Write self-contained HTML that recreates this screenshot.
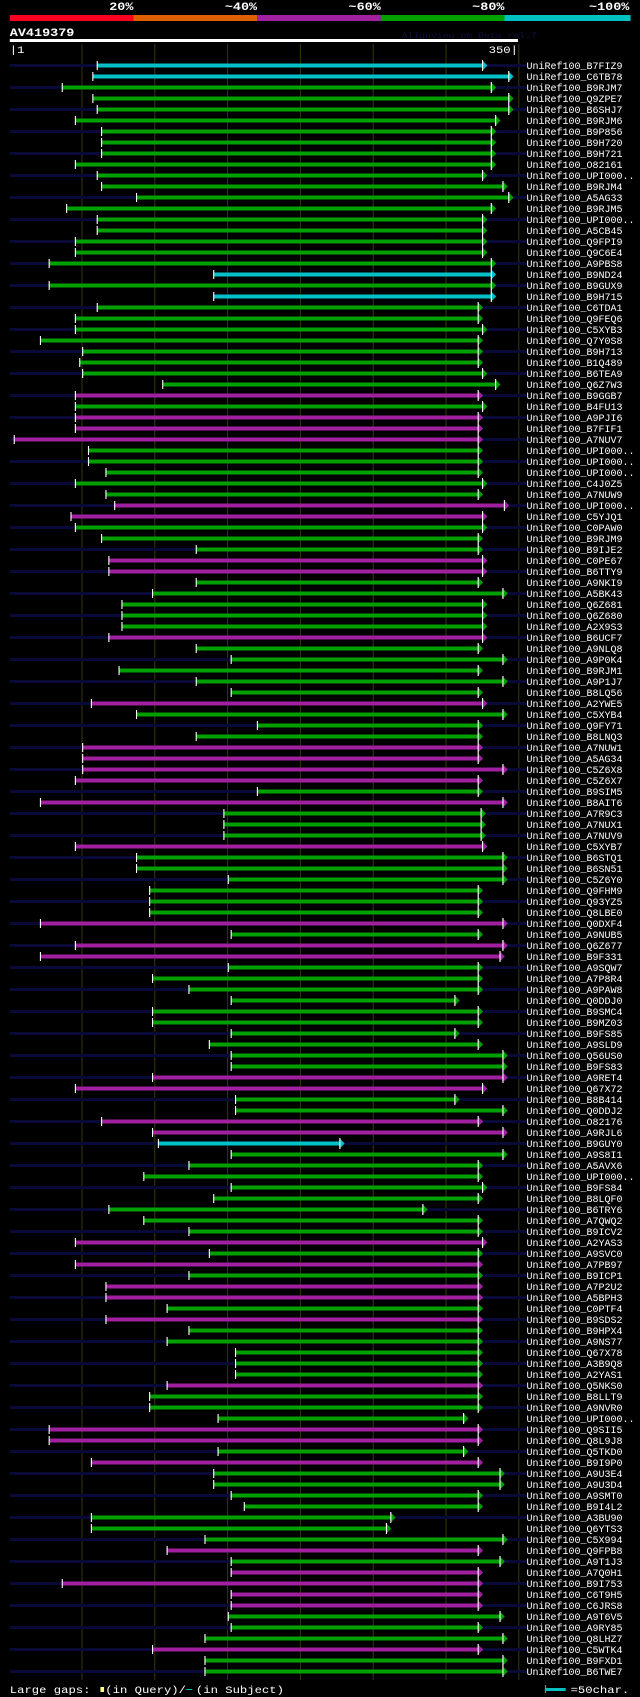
<!DOCTYPE html>
<html><head><meta charset="utf-8">
<style>
html,body{margin:0;padding:0;background:#000;}
svg{display:block;}
text{font-family:"Liberation Mono","DejaVu Sans Mono",monospace;}
</style></head>
<body>
<svg id="chart" width="640" height="1697" viewBox="0 0 522.67 1697" preserveAspectRatio="none" xmlns="http://www.w3.org/2000/svg">
  <rect x="0" y="0" width="522.67" height="1697" fill="#000"/>
  <g font-weight="bold" font-size="11" fill="#fff">
    <text x="109" y="10" text-anchor="end">20%</text>
    <text x="210" y="10" text-anchor="end">~40%</text>
    <text x="311" y="10" text-anchor="end">~60%</text>
    <text x="412" y="10" text-anchor="end">~80%</text>
    <text x="514" y="10" text-anchor="end">~100%</text>
  </g>
  <g>
    <rect x="8" y="15" width="101" height="6" fill="#ff0020"/>
    <rect x="109" y="15" width="101" height="6" fill="#e06000"/>
    <rect x="210" y="15" width="101" height="6" fill="#a020a0"/>
    <rect x="311" y="15" width="101" height="6" fill="#00a000"/>
    <rect x="412" y="15" width="103" height="6" fill="#00c0c0"/>
  </g>
  <text x="8" y="36" font-weight="bold" font-size="11" fill="#fff">AV419379</text>
  <text x="328" y="38" font-size="8" fill="#101040">AlignView.pm Beta rel.7</text>
  <rect x="8" y="39" width="415" height="3" fill="#fff"/>
  <g id="grid"></g>
  <text x="8" y="53" font-size="10" fill="#fff">|1</text>
  <text x="423" y="53" font-size="10" fill="#fff" text-anchor="end">350|</text>
  <g id="rows"></g>
  <g font-size="10" fill="#fff">
    <text x="8" y="1693">Large gaps:</text>
    <rect x="82" y="1687" width="3" height="5" fill="#ffff80"/>
    <text x="86" y="1693">(in Query)/</text>
    <rect x="152" y="1689" width="5" height="1" fill="#00c0c0"/>
    <text x="160" y="1693">(in Subject)</text>
    <rect x="445" y="1688" width="17" height="3" fill="#00c0c0"/>
    <rect x="445" y="1685" width="1" height="8" fill="#888"/>
    <text x="466" y="1693">=50char.</text>
  </g>
</svg>
<script>
const labels = ["B7FIZ9","C6TB78","B9RJM7","Q9ZPE7","B6SHJ7","B9RJM6","B9P856","B9H720","B9H721","O82161","UPI000..","B9RJM4","A5AG33","B9RJM5","UPI000..","A5CB45","Q9FPI9","Q9C6E4","A9PBS8","B9ND24","B9GUX9","B9H715","C6TDA1","Q9FEQ6","C5XYB3","Q7Y0S8","B9H713","B1Q489","B6TEA9","Q6Z7W3","B9GGB7","B4FU13","A9PJI6","B7FIF1","A7NUV7","UPI000..","UPI000..","UPI000..","C4J0Z5","A7NUW9","UPI000..","C5YJQ1","C0PAW0","B9RJM9","B9IJE2","C0PE67","B6TTY9","A9NKI9","A5BK43","Q6Z681","Q6Z680","A2X9S3","B6UCF7","A9NLQ8","A9P0K4","B9RJM1","A9P1J7","B8LQ56","A2YWE5","C5XYB4","Q9FY71","B8LNQ3","A7NUW1","A5AG34","C5Z6X8","C5Z6X7","B9SIM5","B8AIT6","A7R9C3","A7NUX1","A7NUV9","C5XYB7","B6STQ1","B6SN51","C5Z6Y0","Q9FHM9","Q93YZ5","Q8LBE0","Q0DXF4","A9NUB5","Q6Z677","B9F331","A9SQW7","A7P8R4","A9PAW8","Q0DDJ0","B9SMC4","B9MZ03","B9FS85","A9SLD9","Q56US0","B9FS83","A9RET4","Q67X72","B8B414","Q0DDJ2","O82176","A9RJL6","B9GUY0","A9S8I1","A5AVX6","UPI000..","B9FS84","B8LQF0","B6TRY6","A7QWQ2","B9ICV2","A2YAS3","A9SVC0","A7PB97","B9ICP1","A7P2U2","A5BPH3","C0PTF4","B9SDS2","B9HPX4","A9NS77","Q67X78","A3B9Q8","A2YAS1","Q5NKS0","B8LLT9","A9NVR0","UPI000..","Q9SII5","Q8L9J8","Q5TKD0","B9I9P0","A9U3E4","A9U3D4","A9SMT0","B9I4L2","A3BU90","Q6YTS3","C5X994","Q9FPB8","A9T1J3","A7Q0H1","B9I753","C6T9H5","C6JRS8","A9T6V5","A9RY85","Q8LHZ7","C5WTK4","B9FXD1","B6TWE7"];
const identity = ["c","c","g","g","g","g","g","g","g","g","g","g","g","g","g","g","g","g","g","c","g","c","g","g","g","g","g","g","g","g","m","g","m","m","m","g","g","g","g","g","m","m","g","g","g","m","m","g","g","g","g","g","m","g","g","g","g","g","m","g","g","g","m","m","m","m","g","m","g","g","g","m","g","g","g","g","g","g","m","g","m","m","g","g","g","g","g","g","g","g","g","g","m","m","g","g","m","m","c","g","g","g","g","g","g","g","g","m","g","m","g","m","m","g","m","g","g","g","g","g","m","g","g","g","m","m","g","m","g","g","g","g","g","g","g","m","g","m","m","m","m","g","g","g","m","g","g"];
const starts = [61,58,37,58,61,46,64,64,64,46,61,64,88,40,61,61,46,46,28,141,28,141,61,46,46,22,51,49,51,106,46,46,46,46,4,55,55,67,46,67,73,43,46,64,129,69,69,129,99,78,78,78,69,129,153,76,129,153,57,88,171,129,51,51,51,46,171,22,148,148,148,46,88,88,151,97,97,97,22,153,46,22,151,99,124,153,99,99,153,138,153,153,99,46,156,156,64,99,103,153,124,93,153,141,69,93,124,46,138,46,124,67,67,109,67,124,109,156,156,156,109,97,97,144,28,28,144,57,141,141,153,162,57,57,135,109,153,153,37,153,153,151,153,135,99,135,135];
const ends = [329,347,335,347,347,338,335,335,335,335,329,343,347,335,329,329,329,329,335,335,335,335,326,326,329,326,326,326,329,338,326,329,326,326,326,326,326,326,329,326,344,329,329,326,326,329,329,326,343,329,329,329,329,326,343,326,343,326,329,343,326,326,326,326,343,326,326,343,328,328,328,329,343,343,343,326,326,326,343,326,343,341,326,326,326,310,326,326,310,326,343,343,343,329,310,343,326,343,231,343,326,326,329,326,288,326,326,329,326,326,326,326,326,326,326,326,326,326,326,326,326,326,326,316,326,326,316,326,341,341,326,326,266,263,343,326,341,326,326,326,326,341,326,343,326,343,343];
const gridTicks = [51,101,151,201,251,301,351];

const colorMap = {c:"#00c0c8", g:"#00a000", m:"#a020a0"};
const NS = "http://www.w3.org/2000/svg";
function xScale(u){ return 8 + (u-1)*415/349; }
function rowY(i){ return 65 + i*11; }
function mk(tag, attrs, parent){
  const e = document.createElementNS(NS, tag);
  for (const k in attrs) e.setAttribute(k, attrs[k]);
  parent.appendChild(e);
  return e;
}
const grid = document.getElementById('grid');
gridTicks.forEach(function(t){
  const l = mk('line', {x1:xScale(t)-0.5, x2:xScale(t)-0.5, y1:44, y2:1680, stroke:'#38380c', 'stroke-width':0.8}, grid);
  
  
});
const rows = document.getElementById('rows');
labels.forEach(function(lab, i){
  const y = rowY(i);
  const g = mk('g', {}, rows);
  
  
  if (i % 2 === 0) {
    const bg = mk('rect', {x:8, y:y-1, width:422, height:3, fill:'#0a0a38'}, g);
    
    
  }
  const x0 = xScale(starts[i]), x1 = xScale(ends[i]);
  const col = colorMap[identity[i]];
  const bar = mk('rect', {x:x0, y:y-1.5, width:Math.max(0, x1-x0-3.5), height:4, fill:col}, g);
  
  
  const st = mk('rect', {x:x0-0.4, y:y-4, width:0.9, height:9, fill:'#fff'}, g);
  
  
  const ar = mk('polygon', {points:(x1-4)+','+(y-4.5)+' '+(x1)+','+(y+0.5)+' '+(x1-4)+','+(y+5.5), fill:col}, g);
  
  
  const ae = mk('rect', {x:x1-4.4, y:y-5, width:0.9, height:11, fill:'#fff'}, g);
  
  
  const full = 'UniRef100_' + lab;
  const t = mk('text', {x:430, y:y+4, 'font-size':10.5, fill:'#fff', textLength:(full.length*4.9).toFixed(1), lengthAdjust:'spacingAndGlyphs'}, g);
  t.textContent = full;
  
  
});
</script>
</body></html>
